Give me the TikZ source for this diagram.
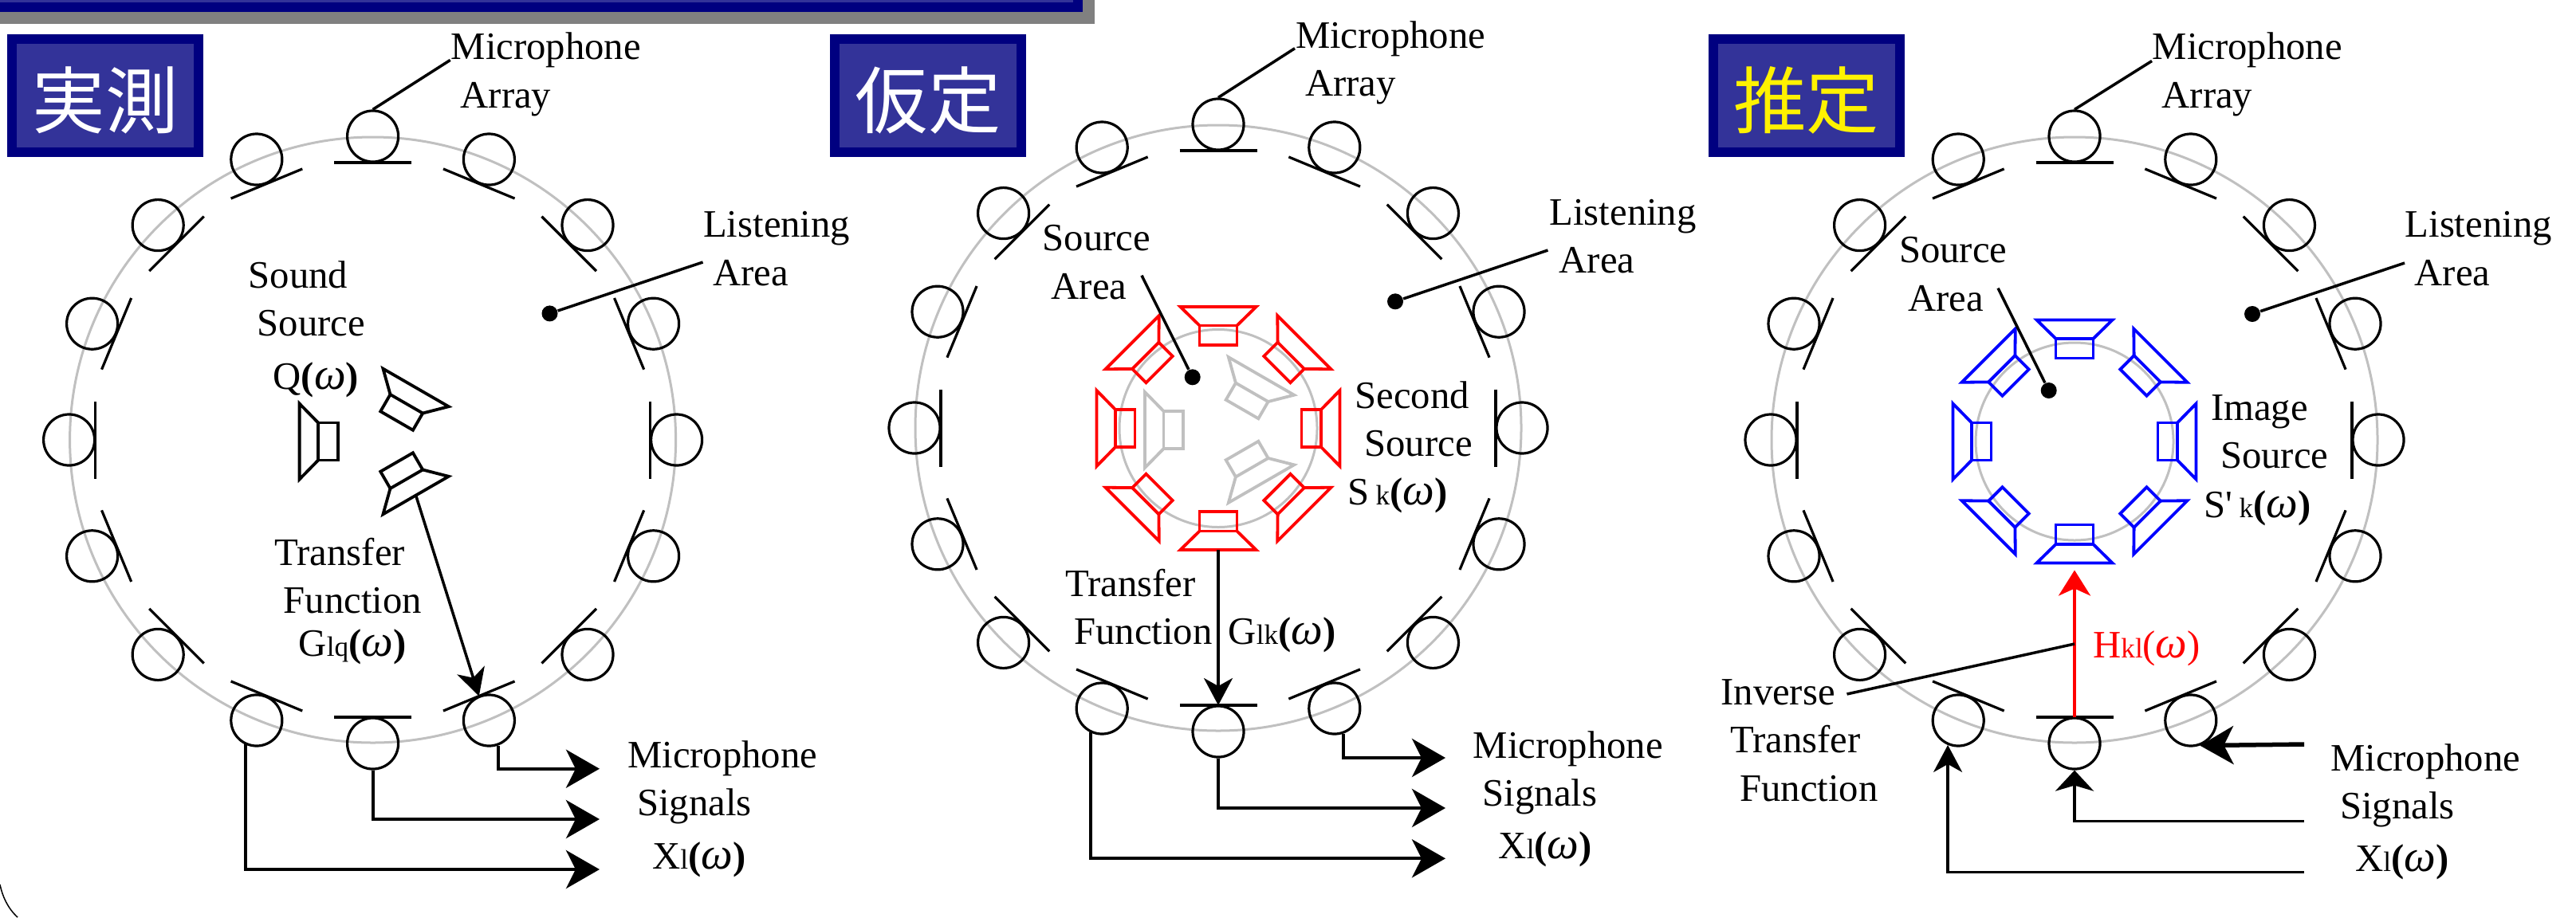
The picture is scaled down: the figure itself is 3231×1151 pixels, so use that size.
\documentclass[tikz,border=0pt]{standalone}
\usepackage{fontspec}
\setmainfont{Liberation Serif}
\newfontfamily\cjkFont{Noto Sans CJK JP}
\usetikzlibrary{arrows.meta,calc}

\definecolor{headNavy}{HTML}{000080}
\definecolor{headIndigo}{HTML}{333399}
\definecolor{headGray}{HTML}{808080}
\definecolor{ringGray}{HTML}{C0C0C0}

\newcommand{\subText}[1]{{\fontsize{10pt}{10pt}\selectfont #1}}
\newcommand{\omegaSign}{{\fontsize{16pt}{16pt}\selectfont\textit{ω}}}
\newcommand{\freqArg}{(\omegaSign)}
\newcommand{\freqArgBold}{\textbf{(}\omegaSign\textbf{)}}

% one ring of sixteen microphones, each with its bar on the inner side
\newcommand{\micRing}[3]{%
  \draw[ring line] (#2,#3) circle[radius=380];
  \foreach \k in {0,...,15} {
    \node[mic] (#1m\k) at ($(#2,#3)+(\k*22.5:381)$) {};
    \coordinate (#1b\k) at ($(#2,#3)+(\k*22.5:348)$);
    \draw[mic bar,shift={(#2,#3)},rotate=-\k*22.5] (348,-48.5) -- (348,48.5);
  }%
}

\begin{document}
\begin{tikzpicture}[
    x=0.01cm, y=-0.01cm,
    every node/.style={font=\fontsize{13.85pt}{17.07pt}\selectfont},
    ring line/.style={draw=ringGray, line width=0.3mm},
    mic/.style={circle, draw=black, line width=0.32mm, minimum size=6.4mm, inner sep=0pt},
    mic bar/.style={draw=black, line width=0.32mm},
    tag box/.style={draw=headNavy, fill=headIndigo, line width=1.2mm, minimum width=23.4mm, minimum height=14.2mm,
      inner sep=0pt, text height=9mm, text depth=1mm, font=\cjkFont\fontsize{26pt}{26pt}\selectfont},
    label/.style={anchor=base west, align=left, inner sep=0pt},
    dot mark/.style={circle, fill=black, minimum size=2mm, inner sep=0pt},
    leader/.style={draw=black, line width=0.35mm},
    speaker/.pic={
      \draw[line width=0.38mm] (0,-23.5) rectangle (24.5,23.5);
      \draw[line width=0.38mm] (24.5,-23.5) -- (48,-47.5) -- (48,47.5) -- (24.5,23.5);
      \coordinate (-outer) at (48,0);
    },
    thin arrow/.style={-{Stealth[length=3.4mm,width=3.6mm,inset=1mm]}, line width=0.35mm},
    signal arrow/.style={-{Stealth[length=4.2mm,width=4.8mm,inset=1.2mm]}, line width=0.42mm},
    short arrow/.style={-{Stealth[length=2.6mm,width=4.8mm,inset=0.7mm]}, line width=0.38mm},
    red arrow/.style={-{Stealth[length=3.2mm,width=4mm,inset=0.9mm]}, line width=0.35mm, draw=red, fill=red}
  ]
    \useasboundingbox (0,0) rectangle (3231,1151);

    % Title bar at the top edge and the corner line at the bottom edge.
    \fill[headGray] (0,0) rectangle (1373,30);
    \fill[headNavy] (0,0) rectangle (1358,15);
    \fill[headIndigo] (0,0) rectangle (1346,3);
    \draw[line width=0.15mm] (0,1110) .. controls (3,1125) and (10,1140) .. (22,1151);

    % Panel 1: measurement.
    \node[tag box, text=white] (measureTag) at (132,120) {実測};
    \micRing{p1}{467.6}{552}
    \pic[rotate=180] (p1q1) at (423.6,554) {speaker};
    \pic[rotate=60] (p1q2) at (497.6,528) {speaker};
    \pic[rotate=-60] (p1q3) at (497.6,580) {speaker};

    \node[label] (p1Array) at (565,135) {Microphone\\\hspace*{1.2mm}Array};
    \node[label] (p1Listen) at (881.5,358) {Listening\\\hspace*{1.2mm}Area};
    \node[label] (p1Sound) at (311,488) {Sound\\\hspace*{1.1mm}Source\\[0.6mm]\hspace*{3.1mm}Q\freqArgBold};
    \node[label] (p1Transfer) at (344,823) {Transfer\\\hspace*{1.1mm}Function\\[-0.7mm]\hspace*{3mm}G\subText{lq}\freqArgBold};
    \node[label] (p1Signals) at (786.5,1090) {Microphone\\\hspace*{1.2mm}Signals\\[0.6mm]\hspace*{3.1mm}X\subText{l}\freqArgBold};

    \node[dot mark] (p1ListenDot) at (689.5,393.4) {};
    \coordinate (p1ArrayEnd) at (564.7,75.4);
    \coordinate (p1ListenEnd) at (881.5,329);
    \coordinate (p1Sig1) at (752,964.7);
    \coordinate (p1Sig2) at (752,1028);
    \coordinate (p1Sig3) at (752,1091);

    \draw[leader] (p1ArrayEnd) -- (p1m12.north);
    \draw[leader] (p1ListenEnd) -- (p1ListenDot);
    \draw[thin arrow] (p1q3-outer) -- (p1b3);
    \draw[signal arrow] (p1m3.-70) |- (p1Sig1);
    \draw[signal arrow] (p1m4.south) |- (p1Sig2);
    \draw[signal arrow] (p1m5.-115) |- (p1Sig3);

    % Panel 2: assumed secondary sources round the original ones.
    \node[tag box, text=white] (assumeTag) at (1164,120) {仮定};
    \micRing{p2}{1528}{537}
    \draw[ring line] (1528,537.5) circle[radius=124];
    \foreach \a in {0,45,...,315} {
      \pic[red, rotate=-\a] (p2s\a) at ($(1528,537.5)+(\a:104.5)$) {speaker};
    }
    \pic[ringGray, rotate=180] (p2q1) at (1484,539.5) {speaker};
    \pic[ringGray, rotate=60] (p2q2) at (1558,513.5) {speaker};
    \pic[ringGray, rotate=-60] (p2q3) at (1558,565.5) {speaker};

    \node[label] (p2Array) at (1624.3,120.7) {Microphone\\\hspace*{1.2mm}Array};
    \node[label] (p2Listen) at (1942.9,342.7) {Listening\\\hspace*{1.2mm}Area};
    \node[label] (p2Area) at (1307,375) {Source\\\hspace*{1.1mm}Area};
    \node[label] (p2Second) at (1698.7,572.3) {Second\\\hspace*{1.2mm}Source};
    \node[label] (p2Sk) at (1689.7,633.3) {S\,\subText{k}\freqArgBold};
    \node[label] (p2Transfer) at (1335.7,808.3) {Transfer\\\hspace*{1.1mm}Function};
    \node[label] (p2Gain) at (1540,808.3) {G\subText{lk}\freqArgBold};
    \node[label] (p2Signals) at (1847,1077.7) {Microphone\\\hspace*{1.2mm}Signals\\[0.6mm]\hspace*{3.2mm}X\subText{l}\freqArgBold};

    \node[dot mark] (p2ListenDot) at (1750,378.3) {};
    \node[dot mark] (p2AreaDot) at (1495.7,473.3) {};
    \coordinate (p2ArrayEnd) at (1624,60.7);
    \coordinate (p2ListenEnd) at (1941.4,314);
    \coordinate (p2AreaEnd) at (1432,345.7);
    \coordinate (p2Sig1) at (1813,951);
    \coordinate (p2Sig2) at (1813,1014);
    \coordinate (p2Sig3) at (1813,1077.3);

    \draw[leader] (p2ArrayEnd) -- (p2m12.north);
    \draw[leader] (p2ListenEnd) -- (p2ListenDot);
    \draw[leader] (p2AreaEnd) -- (p2AreaDot);
    \draw[thin arrow] (p2s90-outer) -- (p2b4);
    \draw[signal arrow] (p2m3.-70) |- (p2Sig1);
    \draw[signal arrow] (p2m4.south) |- (p2Sig2);
    \draw[signal arrow] (p2m5.-115) |- (p2Sig3);

    % Panel 3: estimated image sources driven from the microphone signals.
    \node[tag box, text=yellow] (estimateTag) at (2265.6,120) {推定};
    \micRing{p3}{2602}{552}
    \draw[ring line] (2602,554) circle[radius=124];
    \foreach \a in {0,45,...,315} {
      \pic[blue, rotate=-\a] (p3s\a) at ($(2602,554)+(\a:104.5)$) {speaker};
    }

    \node[label] (p3Array) at (2699,135) {Microphone\\\hspace*{1.2mm}Array};
    \node[label] (p3Listen) at (3016,358) {Listening\\\hspace*{1.2mm}Area};
    \node[label] (p3Area) at (2381.4,390) {Source\\\hspace*{1.1mm}Area};
    \node[label] (p3Image) at (2772.4,587.4) {Image\\\hspace*{1.2mm}Source};
    \node[label] (p3Sk) at (2764,649) {S\textquotesingle\,\subText{k}\freqArgBold};
    \node[label, text=red] (p3Inverse) at (2624.5,825) {H\subText{kl}\freqArg};
    \node[label] (p3Transfer) at (2157.7,1005) {Inverse\\\hspace*{1.2mm}Transfer\\\hspace*{2.4mm}Function};
    \node[label] (p3Signals) at (2922.5,1093.7) {Microphone\\\hspace*{1.2mm}Signals\\[0.6mm]\hspace*{3.1mm}X\subText{l}\freqArgBold};

    \node[dot mark] (p3ListenDot) at (2825,394) {};
    \node[dot mark] (p3AreaDot) at (2569.7,490) {};
    \coordinate (p3ArrayEnd) at (2699,76.5);
    \coordinate (p3ListenEnd) at (3016,330);
    \coordinate (p3AreaEnd) at (2506,361.6);
    \coordinate (p3InverseEnd) at (2602,808);
    \coordinate (p3InverseStart) at (2316.5,871);
    \coordinate (p3Sig1) at (2890,934);
    \coordinate (p3Sig2) at (2890,1030.4);
    \coordinate (p3Sig3) at (2890,1094.4);

    \draw[leader] (p3ArrayEnd) -- (p3m12.north);
    \draw[leader] (p3ListenEnd) -- (p3ListenDot);
    \draw[leader] (p3AreaEnd) -- (p3AreaDot);
    \draw[red arrow, shorten >=0.9mm] (p3b4) -- (p3s90-outer);
    \draw[leader] (p3InverseStart) -- (p3InverseEnd);
    \draw[signal arrow, line width=0.55mm] (p3Sig1) -- (p3m3.-70);
    \draw[short arrow] (p3Sig2) -| (p3m4.south);
    \draw[thin arrow] (p3Sig3) -| (p3m5.-113);
  \end{tikzpicture}
\end{document}
